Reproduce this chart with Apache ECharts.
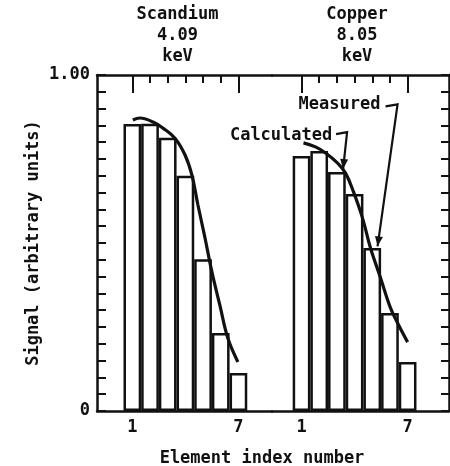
<!DOCTYPE html>
<html>
<head>
<meta charset="utf-8">
<script src="https://cdn.jsdelivr.net/npm/echarts@6/dist/echarts.min.js"></script>
<style>
html,body{margin:0;padding:0;background:#fff;}
#chart{width:450px;height:466px;}
</style>
</head>
<body>
<div id="chart"></div>
<script>
// ---- data ----
const indices = [1, 2, 3, 4, 5, 6, 7];
const scandiumMeasured = [0.854, 0.855, 0.813, 0.700, 0.452, 0.232, 0.113];
const copperMeasured = [0.759, 0.774, 0.711, 0.646, 0.485, 0.292, 0.146];
const scandiumCalcX = [1.03, 1.43, 2.17, 2.73, 3.41, 3.98, 4.37, 4.71, 5.11, 5.50, 5.95, 6.40, 6.97];
const scandiumCalcY = [0.866, 0.872, 0.860, 0.842, 0.812, 0.762, 0.702, 0.613, 0.515, 0.414, 0.315, 0.217, 0.146];
const copperCalcX = [1.11, 1.79, 2.36, 3.04, 3.49, 3.94, 4.45, 4.90, 5.47, 6.03, 6.49, 7.00];
const copperCalcY = [0.798, 0.786, 0.768, 0.738, 0.708, 0.652, 0.574, 0.485, 0.396, 0.307, 0.256, 0.205];
const xLabelValues = [1, 7];
const yLabelValues = [0, 1];
const yLabelTexts = ['0', '1.00'];
const panelTitles = ['Scandium\n4.09\nkeV', 'Copper\n8.05\nkeV'];
const xAxisTitle = 'Element index number';
const yAxisTitle = 'Signal (arbitrary units)';
const annCalculated = {text: 'Calculated', at: [3.35, 0.72]};
const annMeasured = {text: 'Measured', at: [5.3, 0.49]};

// ---- style ----
const INK = '#111';
const FONT = 'DejaVu Sans Mono';
const FS = 17;
const textStyle = {fontFamily: FONT, fontSize: FS, fontWeight: 'bold', color: INK};

const chart = echarts.init(document.getElementById('chart'), null, {renderer: 'canvas'});

function pairs(xs, ys) { return xs.map((x, i) => [x, ys[i]]); }

const xRanges = [[-1, 8.9], [-0.67, 9.34]];
const xAxes = [];
xRanges.forEach((r, g) => {
  xAxes.push({
    gridIndex: g, type: 'value', position: 'bottom', min: r[0], max: r[1],
    axisLine: {show: true, onZero: false, lineStyle: {color: INK, width: 2.5}},
    axisTick: {show: true, inside: true, length: 7, customValues: indices, lineStyle: {color: INK, width: 2}},
    axisLabel: {show: true, customValues: xLabelValues, margin: 8, ...textStyle},
    splitLine: {show: false}
  });
  xAxes.push({
    gridIndex: g, type: 'value', position: 'top', min: r[0], max: r[1],
    axisLine: {show: true, onZero: false, lineStyle: {color: INK, width: 2.5}},
    axisTick: {show: true, inside: true, length: 8, customValues: indices.slice(1, 6), lineStyle: {color: INK, width: 2}},
    axisLabel: {show: false},
    splitLine: {show: false}
  });
  xAxes.push({
    gridIndex: g, type: 'value', position: 'top', min: r[0], max: r[1],
    axisLine: {show: false, onZero: false},
    axisTick: {show: true, inside: true, length: 18, customValues: xLabelValues, lineStyle: {color: INK, width: 2}},
    axisLabel: {show: false},
    splitLine: {show: false}
  });
});

const yAxes = [
  {
    gridIndex: 0, type: 'value', position: 'left', min: 0, max: 1, interval: 0.05,
    axisLine: {show: true, onZero: false, lineStyle: {color: INK, width: 2.5}},
    axisTick: {show: true, inside: true, length: 9, lineStyle: {color: INK, width: 2}},
    axisLabel: {show: true, customValues: yLabelValues, margin: 7,
      formatter: v => yLabelTexts[yLabelValues.indexOf(v)], ...textStyle},
    splitLine: {show: false},
    name: yAxisTitle, nameLocation: 'middle', nameGap: 55, nameRotate: 90,
    nameTextStyle: {...textStyle}
  },
  {
    gridIndex: 1, type: 'value', position: 'right', min: 0, max: 1, interval: 0.05,
    axisLine: {show: true, onZero: false, lineStyle: {color: INK, width: 2.5}},
    axisTick: {show: true, inside: true, length: 8, lineStyle: {color: INK, width: 2}},
    axisLabel: {show: false},
    splitLine: {show: false}
  }
];

const barStyle = {color: '#fff', borderColor: INK, borderWidth: 2.5};
const lineStyle = {color: INK, width: 3.2};

const option = {
  animation: false,
  backgroundColor: '#fff',
  grid: [
    {left: 97, top: 75, width: 175, bottom: 55},
    {left: 272, top: 75, width: 177, bottom: 55}
  ],
  xAxis: xAxes,
  yAxis: yAxes,
  series: [
    {type: 'bar', xAxisIndex: 0, yAxisIndex: 0, barWidth: 17.7, silent: true,
      data: pairs(indices, scandiumMeasured), itemStyle: barStyle},
    {type: 'line', xAxisIndex: 0, yAxisIndex: 0, smooth: 0.4, symbol: 'none', silent: true,
      data: pairs(scandiumCalcX, scandiumCalcY), lineStyle: lineStyle, z: 5},
    {type: 'bar', xAxisIndex: 3, yAxisIndex: 1, barWidth: 17.7, silent: true,
      data: pairs(indices, copperMeasured), itemStyle: barStyle},
    {type: 'line', xAxisIndex: 3, yAxisIndex: 1, smooth: 0.4, symbol: 'none', silent: true,
      data: pairs(copperCalcX, copperCalcY), lineStyle: lineStyle, z: 5}
  ]
};
chart.setOption(option);

// ---- annotations ----
function arrowHead(tip, from) {
  const dx = tip[0] - from[0], dy = tip[1] - from[1];
  const L = Math.hypot(dx, dy) || 1;
  const ux = dx / L, uy = dy / L;
  const len = 10, hw = 4;
  const bx = tip[0] - ux * len, by = tip[1] - uy * len;
  return {type: 'polygon', z: 100,
    shape: {points: [tip, [bx - uy * hw, by + ux * hw], [bx + uy * hw, by - ux * hw]]},
    style: {fill: INK}};
}
const finder = {xAxisIndex: 3, yAxisIndex: 1};
const tc = chart.convertToPixel(finder, annCalculated.at);
const tm = chart.convertToPixel(finder, annMeasured.at);
const cPts = [[tc[0] - 7, tc[1] - 35], [tc[0] + 4, tc[1] - 37], tc];
const mPts = [[tm[0] + 8, tm[1] - 140], [tm[0] + 20, tm[1] - 142], tm];

const graphic = [
  {type: 'text', x: 177.5, y: 4, z: 100,
    style: {text: panelTitles[0], align: 'center', verticalAlign: 'top', lineHeight: 21,
      font: `bold ${FS}px "${FONT}"`, fill: INK}},
  {type: 'text', x: 357, y: 4, z: 100,
    style: {text: panelTitles[1], align: 'center', verticalAlign: 'top', lineHeight: 21,
      font: `bold ${FS}px "${FONT}"`, fill: INK}},
  {type: 'text', x: 262, y: 459, z: 100,
    style: {text: xAxisTitle, align: 'center', verticalAlign: 'middle',
      font: `bold ${FS}px "${FONT}"`, fill: INK}},
  {type: 'text', x: tc[0] - 62, y: tc[1] - 34, z: 100,
    style: {text: annCalculated.text, align: 'center', verticalAlign: 'middle',
      font: `bold ${FS}px "${FONT}"`, fill: INK}},
  {type: 'text', x: tm[0] - 38, y: tm[1] - 142, z: 100,
    style: {text: annMeasured.text, align: 'center', verticalAlign: 'middle',
      font: `bold ${FS}px "${FONT}"`, fill: INK}},
  {type: 'polyline', z: 100, shape: {points: cPts}, style: {stroke: INK, lineWidth: 2.2, fill: null}},
  arrowHead(tc, cPts[1]),
  {type: 'polyline', z: 100, shape: {points: mPts}, style: {stroke: INK, lineWidth: 2.2, fill: null}},
  arrowHead(tm, mPts[1])
];
chart.setOption({graphic: graphic});
</script>
</body>
</html>
